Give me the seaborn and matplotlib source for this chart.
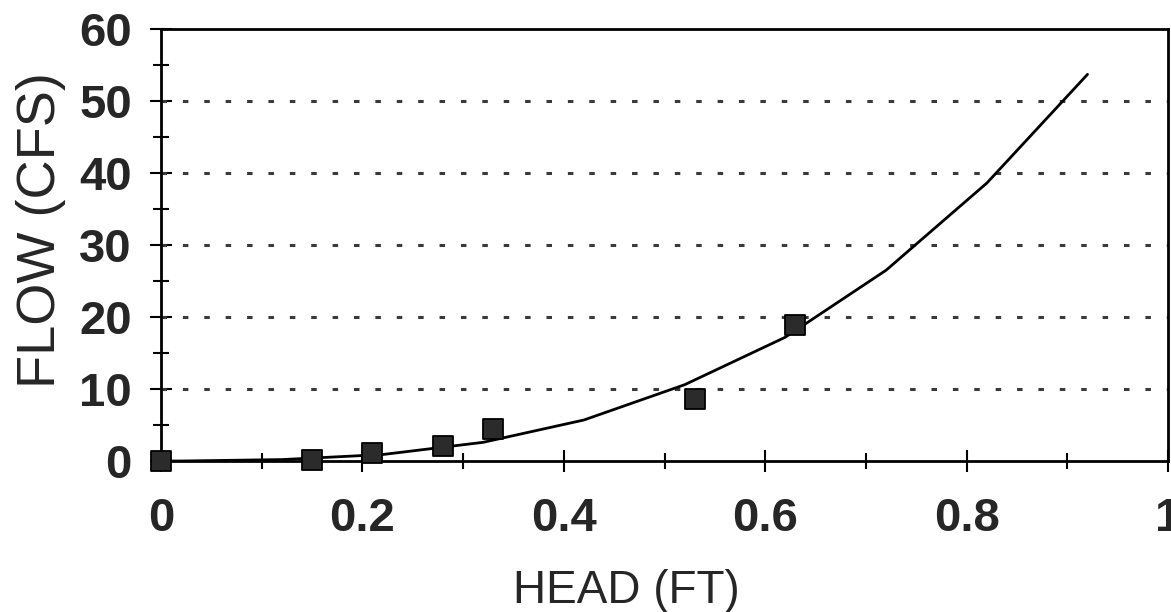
import matplotlib
matplotlib.use("Agg")
import matplotlib.pyplot as plt
import seaborn as sns
import pandas as pd
from matplotlib.ticker import MultipleLocator

# Measured data (squares)
head_obs = [0.0, 0.15, 0.21, 0.28, 0.33, 0.53, 0.63]
flow_obs = [0.0, 0.2, 1.1, 2.1, 4.4, 8.6, 18.9]

# Rating curve (polyline vertices)
head_fit = [0.0, 0.02, 0.12, 0.22, 0.32, 0.42, 0.52, 0.62, 0.72, 0.82, 0.92]
flow_fit = [0.0, 0.0, 0.2, 0.9, 2.6, 5.7, 10.6, 17.2, 26.5, 38.6, 53.7]

x_ticks = [0, 0.2, 0.4, 0.6, 0.8, 1]
x_tick_labels = ["0", "0.2", "0.4", "0.6", "0.8", "1"]
y_ticks = [0, 10, 20, 30, 40, 50, 60]

sns.set_style("white")
plt.rcParams["font.family"] = ["Liberation Sans", "DejaVu Sans"]

fig = plt.figure(figsize=(11.71, 6.12), dpi=100)
ax = fig.add_axes([0.1375, 0.2467, 0.86, 0.7059])

obs = pd.DataFrame({"head": head_obs, "flow": flow_obs})
fit = pd.DataFrame({"head": head_fit, "flow": flow_fit})

for yv in y_ticks[1:-1]:
    ax.axhline(yv, color="#3a3a3a", lw=2.2, ls=(0, (1.8, 5.2)), dash_capstyle="butt", zorder=1)

sns.lineplot(data=fit, x="head", y="flow", ax=ax, color="black", lw=2.0,
             estimator=None, sort=False, zorder=3)
sns.scatterplot(data=obs, x="head", y="flow", ax=ax, marker="s", s=190,
                color="#2b2b2b", edgecolor="black", linewidth=1.3, zorder=4, clip_on=False)

ax.set_xlim(0, 1)
ax.set_ylim(0, 60)
ax.set_xticks(x_ticks)
ax.set_xticklabels(x_tick_labels)
ax.set_yticks(y_ticks)
ax.xaxis.set_minor_locator(MultipleLocator(0.1))
ax.yaxis.set_minor_locator(MultipleLocator(5))

ax.tick_params(axis="both", which="major", direction="inout", length=16, width=1.5,
               color="black", bottom=True, left=True)
ax.tick_params(axis="both", which="minor", direction="inout", length=11, width=1.5,
               color="black", bottom=True, left=True)
ax.tick_params(axis="x", which="major", labelsize=34, pad=18)
ax.tick_params(axis="y", which="major", labelsize=34, pad=13)
for lab in ax.get_yticklabels() + ax.get_xticklabels():
    lab.set_fontweight("bold")

for sp in ax.spines.values():
    sp.set_visible(True)
    sp.set_color("black")
    sp.set_linewidth(2.0)

ax.set_xlabel("HEAD (FT)", fontsize=33)
ax.set_ylabel("FLOW (CFS)", fontsize=39)
ax.xaxis.set_label_coords(0.462, -0.25)
ax.yaxis.set_label_coords(-0.094, 0.535)

fig.savefig("out.png", dpi=100)
